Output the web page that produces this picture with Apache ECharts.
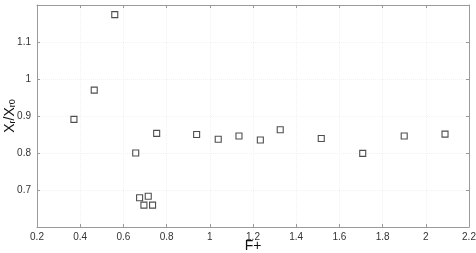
<!DOCTYPE html>
<html><head><meta charset="utf-8">
<script src="https://cdn.jsdelivr.net/npm/echarts@6/dist/echarts.min.js"></script>
<style>html,body{margin:0;padding:0;background:#fff}#c{width:476px;height:253px}</style>
</head><body><div id="c"></div>
<script>
const xValues = [0.371,0.465,0.560,0.657,0.754,0.675,0.695,0.715,0.735,0.939,1.039,1.135,1.234,1.326,1.516,1.708,1.900,2.089];
const yValues = [0.891,0.970,1.174,0.800,0.853,0.679,0.659,0.683,0.659,0.850,0.837,0.846,0.835,0.863,0.839,0.799,0.846,0.851];
const xTicks = [0.2,0.4,0.6,0.8,1,1.2,1.4,1.6,1.8,2,2.2];
const yTicks = [0.7,0.8,0.9,1,1.1];
const xLabel = 'F+';

const chart = echarts.init(document.getElementById('c'));
const axCol = '#9a9a9a';
const lblStyle = {color:'#333', fontSize:10, fontFamily:'Liberation Sans, Arial, sans-serif'};
function fmt(v){ return String(Math.round(v*10)/10); }
chart.setOption({
  animation:false,
  grid:{left:37,right:7,top:5,bottom:26,containLabel:false,outerBoundsMode:'none'},
  xAxis:[{
    type:'value',min:0.2,max:2.2,interval:0.2,position:'bottom',
    axisLine:{show:true,onZero:false,lineStyle:{color:axCol,width:1}},
    axisTick:{show:true,inside:true,length:3,lineStyle:{color:axCol}},
    splitLine:{show:true,lineStyle:{color:'#f2f2f2',type:'dotted'}},
    axisLabel:Object.assign({margin:5,formatter:v=>xTicks.some(t=>Math.abs(t-v)<1e-6)?fmt(v):''},lblStyle),
    name:xLabel,nameLocation:'middle',nameGap:12,nameMoveOverlap:false,
    nameTextStyle:{color:'#111',fontSize:14,fontFamily:'Liberation Sans, Arial, sans-serif'}
  },{
    type:'value',min:0.2,max:2.2,interval:0.2,position:'top',
    axisLine:{show:true,onZero:false,lineStyle:{color:axCol,width:1}},
    axisTick:{show:true,inside:true,length:3,lineStyle:{color:axCol}},
    splitLine:{show:false},axisLabel:{show:false}
  }],
  yAxis:[{
    type:'value',min:0.6,max:1.2,interval:0.1,position:'left',
    axisLine:{show:true,onZero:false,lineStyle:{color:axCol,width:1}},
    axisTick:{show:true,inside:true,length:3,lineStyle:{color:axCol}},
    splitLine:{show:true,lineStyle:{color:'#f2f2f2',type:'dotted'}},
    axisLabel:Object.assign({margin:6,formatter:v=>yTicks.some(t=>Math.abs(t-v)<1e-6)?fmt(v):''},lblStyle),
    name:'{m|X}{s|r}{m|/X}{s|r0}',nameLocation:'middle',nameGap:20,nameRotate:90,nameMoveOverlap:false,
    nameTextStyle:{rich:{
      m:{color:'#111',fontSize:14,fontFamily:'Liberation Sans, Arial, sans-serif',verticalAlign:'bottom',lineHeight:16},
      s:{color:'#111',fontSize:9,fontFamily:'Liberation Sans, Arial, sans-serif',verticalAlign:'bottom',lineHeight:10,padding:[6,0,0,0]}
    }}
  },{
    type:'value',min:0.6,max:1.2,interval:0.1,position:'right',
    axisLine:{show:true,onZero:false,lineStyle:{color:axCol,width:1}},
    axisTick:{show:true,inside:true,length:3,lineStyle:{color:axCol}},
    splitLine:{show:false},axisLabel:{show:false}
  }],
  series:[{
    type:'scatter',xAxisIndex:0,yAxisIndex:0,
    data:xValues.map((x,i)=>[x,yValues[i]]),
    symbol:'rect',symbolSize:6,
    itemStyle:{color:'#fff',borderColor:'#222',borderWidth:1.1}
  }]
});
</script></body></html>
